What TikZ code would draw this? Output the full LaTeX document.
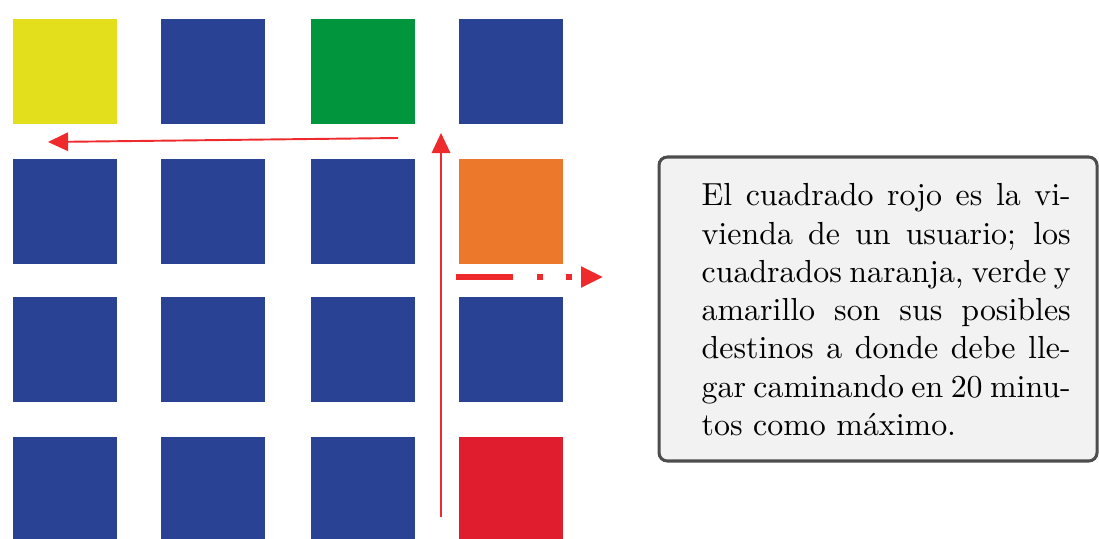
\documentclass[tikz,border=0pt]{standalone}
\usetikzlibrary{arrows.meta}
\definecolor{cyellow}{HTML}{E3DF1C}
\definecolor{cblue}{HTML}{2A4294}
\definecolor{cgreen}{HTML}{01963D}
\definecolor{corange}{HTML}{EC792B}
\definecolor{cred}{HTML}{E01C2F}
\definecolor{carrow}{HTML}{EE2A2D}
\definecolor{boxfill}{HTML}{F2F2F2}
\definecolor{boxline}{HTML}{4D4D4D}
\begin{document}
\begin{tikzpicture}[x=0.31348pt,y=-0.31348pt,
  block/.style={draw=none,minimum width=32.6pt,minimum height=32.9pt,inner sep=0pt,anchor=north west},
  thinarrow/.style={draw=carrow,line width=0.6pt,-{Triangle[length=6.3pt,width=5.8pt]}},
  dasharrow/.style={draw=carrow,line width=1.6pt,dash pattern=on 17.9pt off 7.5pt on 1.9pt off 7.2pt on 1.9pt off 10pt,-{Triangle[length=6.9pt,width=6.3pt]}},
  infobox/.style={draw=boxline,line width=0.95pt,fill=boxfill,rounded corners=2.6pt}]
\useasboundingbox (0,0) rectangle (1099,538);
\clip (0,0) rectangle (1099,538);
% row 1
\node[block,fill=cyellow] (s11) at (12,18) {};
\node[block,fill=cblue]   (s12) at (160,18) {};
\node[block,fill=cgreen]  (s13) at (310,18) {};
\node[block,fill=cblue]   (s14) at (458,18) {};
% row 2
\node[block,fill=cblue]   (s21) at (12,158) {};
\node[block,fill=cblue]   (s22) at (160,158) {};
\node[block,fill=cblue]   (s23) at (310,158) {};
\node[block,fill=corange] (s24) at (458,158) {};
% row 3
\node[block,fill=cblue]   (s31) at (12,296) {};
\node[block,fill=cblue]   (s32) at (160,296) {};
\node[block,fill=cblue]   (s33) at (310,296) {};
\node[block,fill=cblue]   (s34) at (458,296) {};
% row 4
\node[block,fill=cblue]   (s41) at (12,436) {};
\node[block,fill=cblue]   (s42) at (160,436) {};
\node[block,fill=cblue]   (s43) at (310,436) {};
\node[block,fill=cred]    (s44) at (458,436) {};
% arrows
\coordinate (vstart) at (441,517);
\coordinate (vend) at (441,133);
\coordinate (hstart) at (398,138);
\coordinate (hend) at (48,142);
\coordinate (dstart) at (456,277);
\coordinate (dend) at (603,277);
\draw[thinarrow] (vstart) -- (vend);
\draw[thinarrow] (hstart) -- (hend);
\draw[dasharrow] (dstart) -- (dend);
% text box
\draw[infobox] (659,157) rectangle (1097,461);
\node[anchor=north west,inner sep=0pt,text width=115.7pt,align=justify] (txt) at (701,183)
{El cuadrado rojo es la vi-\linebreak vienda de un usuario; los\linebreak cuadrados naranja, verde y\linebreak amarillo son sus posibles\linebreak destinos a donde debe lle-\linebreak gar caminando en 20 minu-\linebreak tos como máximo.};
\end{tikzpicture}
\end{document}
